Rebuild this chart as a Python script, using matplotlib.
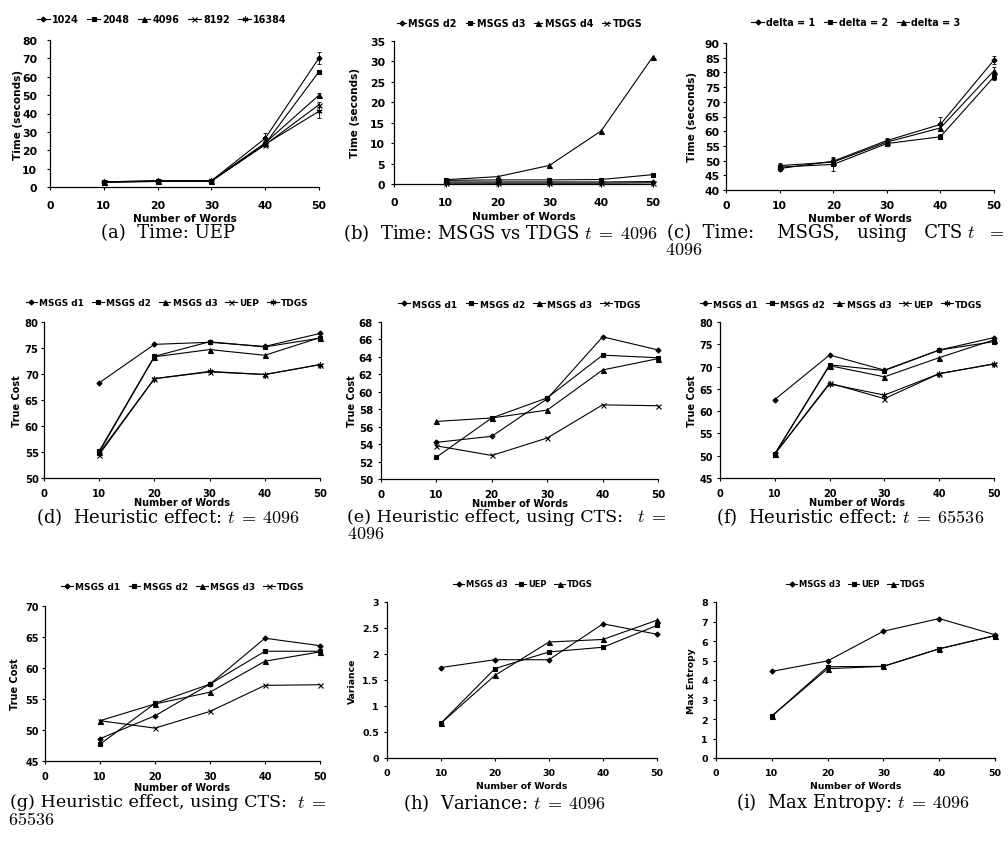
import matplotlib
matplotlib.use("Agg")
import matplotlib.pyplot as plt
import numpy as np

plt.rcParams['mathtext.fontset'] = 'cm'

W, H = 1008, 853
words = [10, 20, 30, 40, 50]

# (a) Time: UEP
a_labels = ["1024", "2048", "4096", "8192", "16384"]
a_vals = [
    [2.8, 3.3, 3.4, 26.5, 70.2],
    [2.7, 3.2, 3.3, 23.5, 62.8],
    [2.8, 3.4, 3.4, 24.0, 50.0],
    [2.7, 3.1, 3.2, 23.0, 44.8],
    [2.6, 3.0, 3.3, 23.3, 41.2],
]
a_err = [
    [0.3, 0.3, 0.3, 3.0, 3.0],
    [0.2, 0.2, 0.2, 0.8, 1.0],
    [0.2, 0.2, 0.2, 0.8, 1.0],
    [0.2, 0.2, 0.2, 0.8, 1.2],
    [0.2, 0.2, 0.2, 0.8, 3.5],
]

# (b) Time: MSGS vs TDGS
b_labels = ["MSGS d2", "MSGS d3", "MSGS d4", "TDGS"]
b_vals = [
    [0.5, 0.5, 0.5, 0.5, 0.6],
    [0.9, 1.0, 1.0, 1.1, 2.3],
    [1.05, 1.8, 4.55, 13.0, 31.2],
    [0.2, 0.2, 0.2, 0.2, 0.3],
]

# (c) Time: MSGS using CTS
c_labels = ["delta = 1", "delta = 2", "delta = 3"]
c_vals = [
    [47.3, 49.8, 56.8, 62.3, 84.2],
    [47.8, 48.7, 55.8, 58.1, 78.5],
    [48.3, 49.5, 56.3, 61.1, 80.6],
]
c_err = [
    [1.0, 1.0, 1.0, 2.4, 1.3],
    [1.0, 2.4, 0.8, 0.8, 1.0],
    [1.0, 1.0, 1.0, 1.0, 1.2],
]

# (d) Heuristic effect t=4096
d_labels = ["MSGS d1", "MSGS d2", "MSGS d3", "UEP", "TDGS"]
d_vals = [
    [68.3, 75.7, 76.1, 75.3, 77.8],
    [55.2, 73.4, 76.2, 75.2, 76.9],
    [55.0, 73.3, 74.7, 73.6, 77.0],
    [54.5, 69.1, 70.4, 69.9, 71.8],
    [54.8, 69.1, 70.5, 69.9, 71.8],
]

# (e) Heuristic effect, using CTS t=4096
e_labels = ["MSGS d1", "MSGS d2", "MSGS d3", "TDGS"]
e_vals = [
    [54.2, 54.9, 59.2, 66.3, 64.8],
    [52.5, 57.0, 59.3, 64.2, 63.9],
    [56.6, 57.0, 57.9, 62.5, 63.8],
    [53.8, 52.7, 54.7, 58.5, 58.4],
]

# (f) Heuristic effect t=65536
f_labels = ["MSGS d1", "MSGS d2", "MSGS d3", "UEP", "TDGS"]
f_vals = [
    [62.6, 72.6, 69.2, 73.7, 76.5],
    [50.4, 70.4, 69.1, 73.7, 75.6],
    [50.4, 70.2, 67.7, 72.0, 76.0],
    [50.4, 66.3, 62.8, 68.4, 70.6],
    [50.4, 66.1, 63.6, 68.4, 70.6],
]

# (g) Heuristic effect, using CTS t=65536
g_labels = ["MSGS d1", "MSGS d2", "MSGS d3", "TDGS"]
g_vals = [
    [48.6, 52.3, 57.4, 64.8, 63.6],
    [47.7, 54.3, 57.4, 62.7, 62.7],
    [51.5, 54.2, 56.1, 61.1, 62.6],
    [51.5, 50.3, 53.0, 57.2, 57.3],
]

# (h) Variance
h_labels = ["MSGS d3", "UEP", "TDGS"]
h_vals = [
    [1.74, 1.89, 1.89, 2.58, 2.38],
    [0.67, 1.72, 2.04, 2.13, 2.55],
    [0.67, 1.59, 2.23, 2.28, 2.65],
]

# (i) Max Entropy
i_labels = ["MSGS d3", "UEP", "TDGS"]
i_vals = [
    [4.44, 4.98, 6.50, 7.15, 6.32],
    [2.15, 4.68, 4.70, 5.60, 6.27],
    [2.15, 4.58, 4.70, 5.60, 6.28],
]

MARKERS = ['D', 's', '^', 'x', (6, 2, 0)]
MSIZES = [2.6, 3.4, 3.6, 3.6, 4.2]

fig = plt.figure(figsize=(W / 100, H / 100), dpi=100)


def px_axes(l, r, t, b):
    return fig.add_axes([l / W, 1 - b / H, (r - l) / W, (b - t) / H])


def panel(box, labels, vals, ylim, ystep, ylabel, tfs, lfs, gfs, leg_xy,
          ylab_x, xlab_y, xpad=4.8, ypad=3.0, markers=None, errs=None,
          hlen=1.3):
    l, r, t, b = box
    ax = px_axes(l, r, t, b)
    mk = markers if markers is not None else MARKERS
    handles = []
    for k, (lab, v) in enumerate(zip(labels, vals)):
        m = mk[k]
        ms = MSIZES[MARKERS.index(m)]
        ln, = ax.plot(words, v, color='black', lw=0.8, marker=m, ms=ms,
                      mec='black', mfc='black', mew=0.8, label=lab,
                      clip_on=False)
        if errs is not None:
            ax.errorbar(words, v, yerr=errs[k], fmt='none', ecolor='black',
                        elinewidth=0.6, capsize=1.5, capthick=0.6,
                        clip_on=False)
        handles.append(ln)
    ax.set_xlim(0, 50)
    ax.set_ylim(*ylim)
    ax.set_xticks(np.arange(0, 51, 10))
    yt = np.arange(ylim[0], ylim[1] + ystep / 2, ystep)
    ax.set_yticks(yt)
    ax.set_yticklabels([('%g' % v) for v in yt])
    for s in ['top', 'right']:
        ax.spines[s].set_visible(False)
    for s in ['left', 'bottom']:
        ax.spines[s].set_linewidth(0.9)
    ax.tick_params(direction='out', length=2.2, width=0.8, labelsize=tfs)
    ax.tick_params(axis='x', pad=xpad)
    ax.tick_params(axis='y', pad=ypad)
    for tl in ax.get_xticklabels() + ax.get_yticklabels():
        tl.set_fontweight('bold')
    fig.text(((l + r) / 2) / W, 1 - xlab_y / H, 'Number of Words',
             ha='center', va='center', fontsize=lfs, fontweight='bold')
    fig.text(ylab_x / W, 1 - ((t + b) / 2) / H, ylabel, ha='center',
             va='center', rotation=90, fontsize=lfs, fontweight='bold')
    leg = fig.legend(handles=handles, loc='center',
                     bbox_to_anchor=(leg_xy[0] / W, 1 - leg_xy[1] / H),
                     ncol=len(labels), frameon=False, fontsize=gfs,
                     handlelength=hlen, handletextpad=0.25,
                     columnspacing=0.9, borderpad=0, borderaxespad=0)
    for txt in leg.get_texts():
        txt.set_fontweight('bold')
    return ax


CAP_FS = 13
CAP_FONT = ['DejaVu Serif']


def caption(x, y, s, ha='center', fs=CAP_FS):
    fig.text(x / W, 1 - y / H, s, ha=ha, va='center', fontsize=fs,
             family=CAP_FONT)


# Row 1
panel((50, 319, 41, 188), a_labels, a_vals, (0, 80), 10, 'Time (seconds)',
      7.8, 7.6, 6.9, (162, 20), 18, 219, xpad=7.4, ypad=7.0, errs=a_err)
panel((394, 653, 42, 185), b_labels, b_vals, (0, 35), 5, 'Time (seconds)',
      7.8, 7.6, 6.9, (520, 24), 355, 217, xpad=6.8, ypad=4.3, hlen=0.9)
panel((726, 994, 44, 191), c_labels, c_vals, (40, 90), 5, 'Time (seconds)',
      7.8, 7.6, 6.9, (856, 23), 692, 219, xpad=5.3, ypad=2.2, errs=c_err)

# Row 2
panel((44, 320, 323, 479), d_labels, d_vals, (50, 80), 5, 'True Cost',
      7.2, 7.0, 6.4, (167, 304), 17, 503, ypad=1.6)
panel((381, 658, 323, 480), e_labels, e_vals, (50, 68), 2, 'True Cost',
      7.4, 7.0, 6.5, (520, 305), 352, 504, ypad=3.6,
      markers=['D', 's', '^', 'x'])
panel((720, 994, 323, 479), f_labels, f_vals, (45, 80), 5, 'True Cost',
      7.0, 7.0, 6.4, (841, 305), 692, 503, ypad=2.9)

# Row 3
panel((45, 320, 607, 762), g_labels, g_vals, (45, 70), 5, 'True Cost',
      7.0, 7.0, 6.5, (183, 588), 15, 788, ypad=2.2,
      markers=['D', 's', '^', 'x'])
panel((387, 657, 603, 759), h_labels, h_vals, (0, 3), 0.5, 'Variance',
      6.8, 6.7, 6.0, (523, 585), 352, 787, xpad=4.8, ypad=3.6)
panel((716, 995, 603, 759), i_labels, i_vals, (0, 8), 1, 'Max Entropy',
      6.8, 6.7, 6.0, (856, 585), 692, 787, xpad=4.8, ypad=3.6)

# Captions
caption(168, 233, '(a)  Time: UEP')
caption(343, 233, r'(b)  Time: MSGS vs TDGS $t\;=\;4096$', ha='left')
caption(667, 233, '(c)  Time:    MSGS,   using   CTS', ha='left')
caption(1005, 233, r'$t\;\;\;=$', ha='right')
caption(665, 250, '$4096$', ha='left')
caption(168, 517, r'(d)  Heuristic effect: $t\;=\;4096$')
caption(347, 517, '(e) Heuristic effect, using CTS:', ha='left', fs=12.6)
caption(666, 517, r'$t\;=$', ha='right')
caption(347, 534, '$4096$', ha='left')
caption(850, 517, r'(f)  Heuristic effect: $t\;=\;65536$')
caption(10, 803, '(g) Heuristic effect, using CTS:', ha='left', fs=12.6)
caption(326, 803, r'$t\;=$', ha='right')
caption(8, 820, '$65536$', ha='left')
caption(505, 803, r'(h)  Variance: $t\;=\;4096$')
caption(853, 803, r'(i)  Max Entropy: $t\;=\;4096$')

fig.savefig('out.png', dpi=100)
